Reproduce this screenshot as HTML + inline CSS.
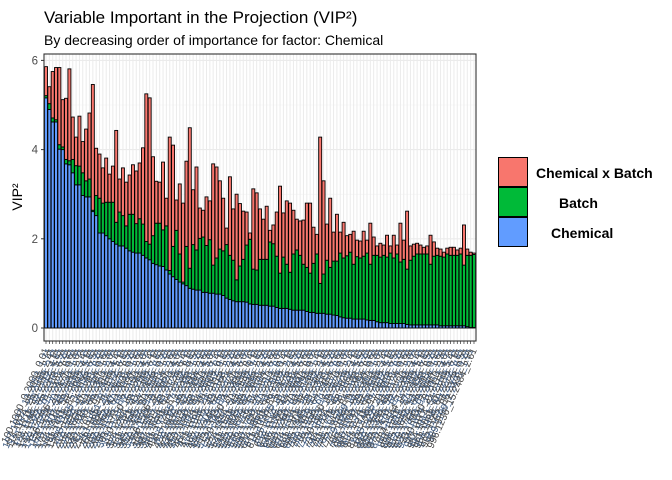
<!DOCTYPE html>
<html><head><meta charset="utf-8"><style>
body{margin:0;background:#fff;}
svg{display:block;font-family:"Liberation Sans",Arial,sans-serif;}
</style></head><body>
<svg id="chart" width="672" height="480">
<text x="44" y="23" font-size="17" fill="#000">Variable Important in the Projection (VIP²)</text>
<text x="44" y="45" font-size="14" fill="#000">By decreasing order of importance for factor: Chemical</text>
<g id="grid"></g>
<g id="bars"></g>
<g id="yaxis"></g>
<g id="xaxis"></g>
<text transform="translate(22,197) rotate(-90)" text-anchor="middle" font-size="14" fill="#000">VIP²</text>
<g>
<g><rect x="498.5" y="157.5" width="29" height="29" fill="#F8766D" stroke="#000"/><text x="536" y="178" font-size="14" font-weight="bold">Chemical x Batch</text></g>
<g><rect x="498.5" y="187.5" width="29" height="29" fill="#00BA38" stroke="#000"/><text x="559" y="208" font-size="14" font-weight="bold">Batch</text></g>
<g><rect x="498.5" y="217.5" width="29" height="29" fill="#619CFF" stroke="#000"/><text x="551" y="238" font-size="14" font-weight="bold">Chemical</text></g>
</g>
</svg>
<script>
const chemical=[5.16,4.90,4.62,4.62,4.01,4.00,3.68,3.66,3.48,3.21,3.21,2.97,2.94,2.94,2.61,2.52,2.13,2.13,2.07,2.00,1.94,1.88,1.84,1.84,1.79,1.73,1.70,1.68,1.68,1.63,1.57,1.53,1.45,1.42,1.39,1.38,1.30,1.21,1.15,1.09,1.03,0.99,0.95,0.89,0.87,0.85,0.85,0.80,0.80,0.78,0.78,0.76,0.76,0.73,0.67,0.64,0.61,0.59,0.59,0.59,0.58,0.54,0.53,0.53,0.51,0.51,0.51,0.49,0.49,0.46,0.44,0.44,0.44,0.42,0.40,0.40,0.40,0.40,0.37,0.35,0.35,0.33,0.33,0.33,0.31,0.31,0.29,0.28,0.25,0.23,0.22,0.22,0.20,0.20,0.20,0.20,0.18,0.17,0.17,0.14,0.12,0.12,0.12,0.10,0.10,0.10,0.10,0.10,0.08,0.07,0.07,0.07,0.07,0.07,0.07,0.07,0.07,0.07,0.05,0.05,0.05,0.05,0.05,0.05,0.05,0.05,0.03,0.01,0.01];
const batch=[0.05,0.13,0.09,0.05,0.10,0.06,0.10,0.09,0.30,0.43,0.42,0.51,0.36,0.40,0.03,0.45,0.78,0.67,0.75,0.82,0.88,0.49,0.76,0.68,0.50,0.82,0.85,0.66,0.77,0.70,0.37,0.35,0.62,0.93,0.96,0.82,0.99,0.08,0.68,1.10,0.63,0.04,0.88,0.45,1.00,0.90,1.16,1.24,1.05,1.20,0.63,0.81,1.01,1.00,1.20,0.99,0.91,0.49,0.80,0.95,1.28,1.45,0.79,0.77,1.03,1.03,1.03,1.44,1.40,1.15,0.79,1.15,0.99,0.83,1.26,1.35,1.23,1.03,0.99,0.88,1.10,1.33,0.67,0.88,1.21,1.05,1.21,1.22,1.43,1.34,1.40,1.48,1.23,1.40,1.37,1.41,1.50,1.26,1.46,1.49,1.47,1.51,1.47,1.58,1.47,1.56,1.38,1.44,1.24,1.45,1.54,1.59,1.59,1.59,1.59,1.36,1.54,1.56,1.56,1.54,1.61,1.58,1.58,1.58,1.61,1.36,1.60,1.62,1.64];
const interaction=[0.65,0.38,1.04,1.17,1.73,1.06,1.37,2.06,0.95,0.64,1.12,0.70,1.16,1.48,2.82,1.06,0.99,0.79,0.99,0.63,0.81,2.06,0.74,1.07,0.98,0.88,1.11,1.18,1.25,1.71,3.31,3.28,1.77,0.94,0.92,1.52,0.62,2.99,2.27,0.68,1.57,1.77,1.91,3.15,1.23,1.86,0.68,0.60,1.09,0.87,2.27,2.04,1.53,1.18,0.37,1.76,1.15,1.92,1.40,1.08,0.74,0.14,1.80,1.73,1.13,0.90,1.19,0.26,0.42,0.99,1.95,0.99,1.42,1.55,0.98,0.69,0.77,0.99,1.44,1.57,0.81,0.44,3.28,2.09,0.81,1.55,0.65,1.05,0.47,0.80,0.45,0.40,0.74,0.37,0.38,0.56,0.29,0.92,0.41,0.21,0.31,0.23,0.49,0.16,0.51,0.20,0.87,0.43,1.30,0.32,0.27,0.24,0.20,0.15,0.18,0.65,0.32,0.16,0.16,0.11,0.13,0.18,0.18,0.12,0.13,0.90,0.14,0.07,0.03];
const yTicks=[0,2,4,6];
const NS="http://www.w3.org/2000/svg";
const L=44,R=476,T=54,B=341;
const n=chemical.length;
const step=(R-L)/(n+0.2);
function xPos(i){return L+step*(0.6+i);}
function yPos(v){return 328-v*44.6;}
function mk(tag,attrs,parent){const e=document.createElementNS(NS,tag);for(const k in attrs)e.setAttribute(k,attrs[k]);parent.appendChild(e);return e;}
const grid=document.getElementById('grid'),bars=document.getElementById('bars'),ya=document.getElementById('yaxis'),xa=document.getElementById('xaxis');
mk('rect',{x:L,y:T,width:R-L,height:B-T,fill:'#fff'},grid);
for(let v=1;v<=6;v+=2){const l=mk('line',{x1:L,x2:R,y1:yPos(v),y2:yPos(v),stroke:'#f2f2f2','stroke-width':0.6},grid);}
yTicks.forEach(v=>{const l=mk('line',{x1:L,x2:R,y1:yPos(v),y2:yPos(v),stroke:'#ebebeb','stroke-width':1.1},grid);});
for(let i=0;i<n;i++){const l=mk('line',{x1:xPos(i),x2:xPos(i),y1:T,y2:B,stroke:'#ebebeb','stroke-width':1},grid);}
const bw=step*0.9;
for(let i=0;i<n;i++){
 const segs=[[0,chemical[i],'#619CFF','bar-chemical'],[chemical[i],chemical[i]+batch[i],'#00BA38','bar-batch'],[chemical[i]+batch[i],chemical[i]+batch[i]+interaction[i],'#F8766D','bar-interaction']];
 segs.forEach(s=>{const r=mk('rect',{x:xPos(i)-bw/2,y:yPos(s[1]),width:bw,height:Math.max(0,yPos(s[0])-yPos(s[1])),fill:s[2],stroke:'#000','stroke-width':0.9},bars);
 
 });
}
mk('rect',{x:L,y:T,width:R-L,height:B-T,fill:'none',stroke:'#333','stroke-width':1.1},bars);
yTicks.forEach(v=>{mk('line',{x1:L-3,x2:L,y1:yPos(v),y2:yPos(v),stroke:'#333'},ya);const t=mk('text',{x:L-6,y:yPos(v)+4,'text-anchor':'end','font-size':11.5,fill:'#4d4d4d'},ya);t.textContent=v;

});
for(let i=0;i<n;i++){
 mk('line',{x1:xPos(i),x2:xPos(i),y1:B,y2:B+3,stroke:'#333','stroke-width':0.7},xa);
 const lbl=(100+i*7)+'.'+(1000+i*37%900)+'_'+((i*13)%97)+'.'+(2000+i*53%700)+'_'+(i%9)+'.'+(i*7%10)+'1';
 const t=mk('text',{transform:'translate('+(xPos(i)+3)+','+(B+9)+') rotate(-66)','text-anchor':'end','font-size':10,fill:i%2?'#3d5a80':'#444'},xa);
 t.textContent=lbl;
 
 
}
</script>
</body></html>
